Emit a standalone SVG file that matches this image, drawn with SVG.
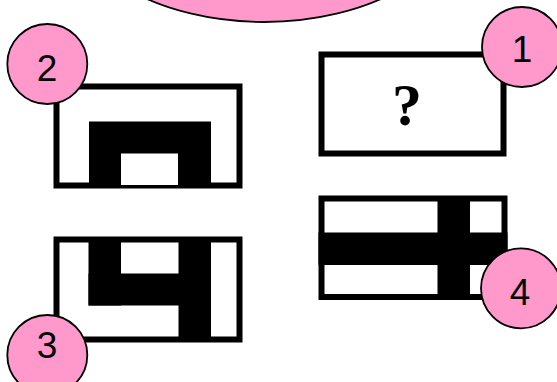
<svg xmlns="http://www.w3.org/2000/svg" width="557" height="382" viewBox="0 0 557 382">
<style>
.bubble{fill:#ff99cc;stroke:#000;stroke-width:1.8}
.box{fill:#fff;stroke:#000;stroke-width:6}
.ink{fill:#000}
.num{font-family:"Liberation Sans",Arial,sans-serif;font-size:37px;fill:#000;text-anchor:middle}
.q{font-family:"Liberation Serif","Times New Roman",serif;font-weight:bold;font-size:60px;fill:#000;text-anchor:middle}
</style>
<rect width="557" height="382" fill="#fff"/>
<g id="top-ellipse">
<ellipse class="bubble" cx="264" cy="-100" rx="200" ry="122"/>
</g>
<g id="connectors"></g>
<g id="box1">
<rect class="box" x="321.5" y="54.5" width="182" height="99"/>
<text class="q" x="407" y="125">?</text>
</g>
<g id="box2">
<rect class="box" x="56.5" y="86.5" width="183" height="99"/>
<rect class="ink" x="89" y="121.5" width="122" height="63"/>
<rect fill="#fff" x="121" y="153.5" width="57" height="31.5"/>
</g>
<g id="box3">
<rect class="box" x="56.5" y="239.5" width="183" height="100"/>
<rect class="ink" x="88.5" y="242" width="32.5" height="63.5"/>
<rect class="ink" x="88.5" y="273.5" width="91" height="32"/>
<rect class="ink" x="178.5" y="242" width="32.5" height="97"/>
</g>
<g id="box4">
<rect class="box" x="321.5" y="198.5" width="183" height="98.5"/>
<rect class="ink" x="318.5" y="232.5" width="189" height="32.5"/>
<rect class="ink" x="437.5" y="201" width="32.5" height="93"/>
</g>
<g id="badge1">
<circle class="bubble" cx="522" cy="47" r="40"/>
<text class="num" x="522" y="61.5">1</text>
</g>
<g id="badge2">
<circle class="bubble" cx="47.3" cy="64" r="40"/>
<text class="num" x="47" y="80.5">2</text>
</g>
<g id="badge3">
<circle class="bubble" cx="47.3" cy="355" r="40"/>
<text class="num" x="47" y="358">3</text>
</g>
<g id="badge4">
<circle class="bubble" cx="521" cy="288.3" r="40"/>
<text class="num" x="520" y="305">4</text>
</g>
</svg>
